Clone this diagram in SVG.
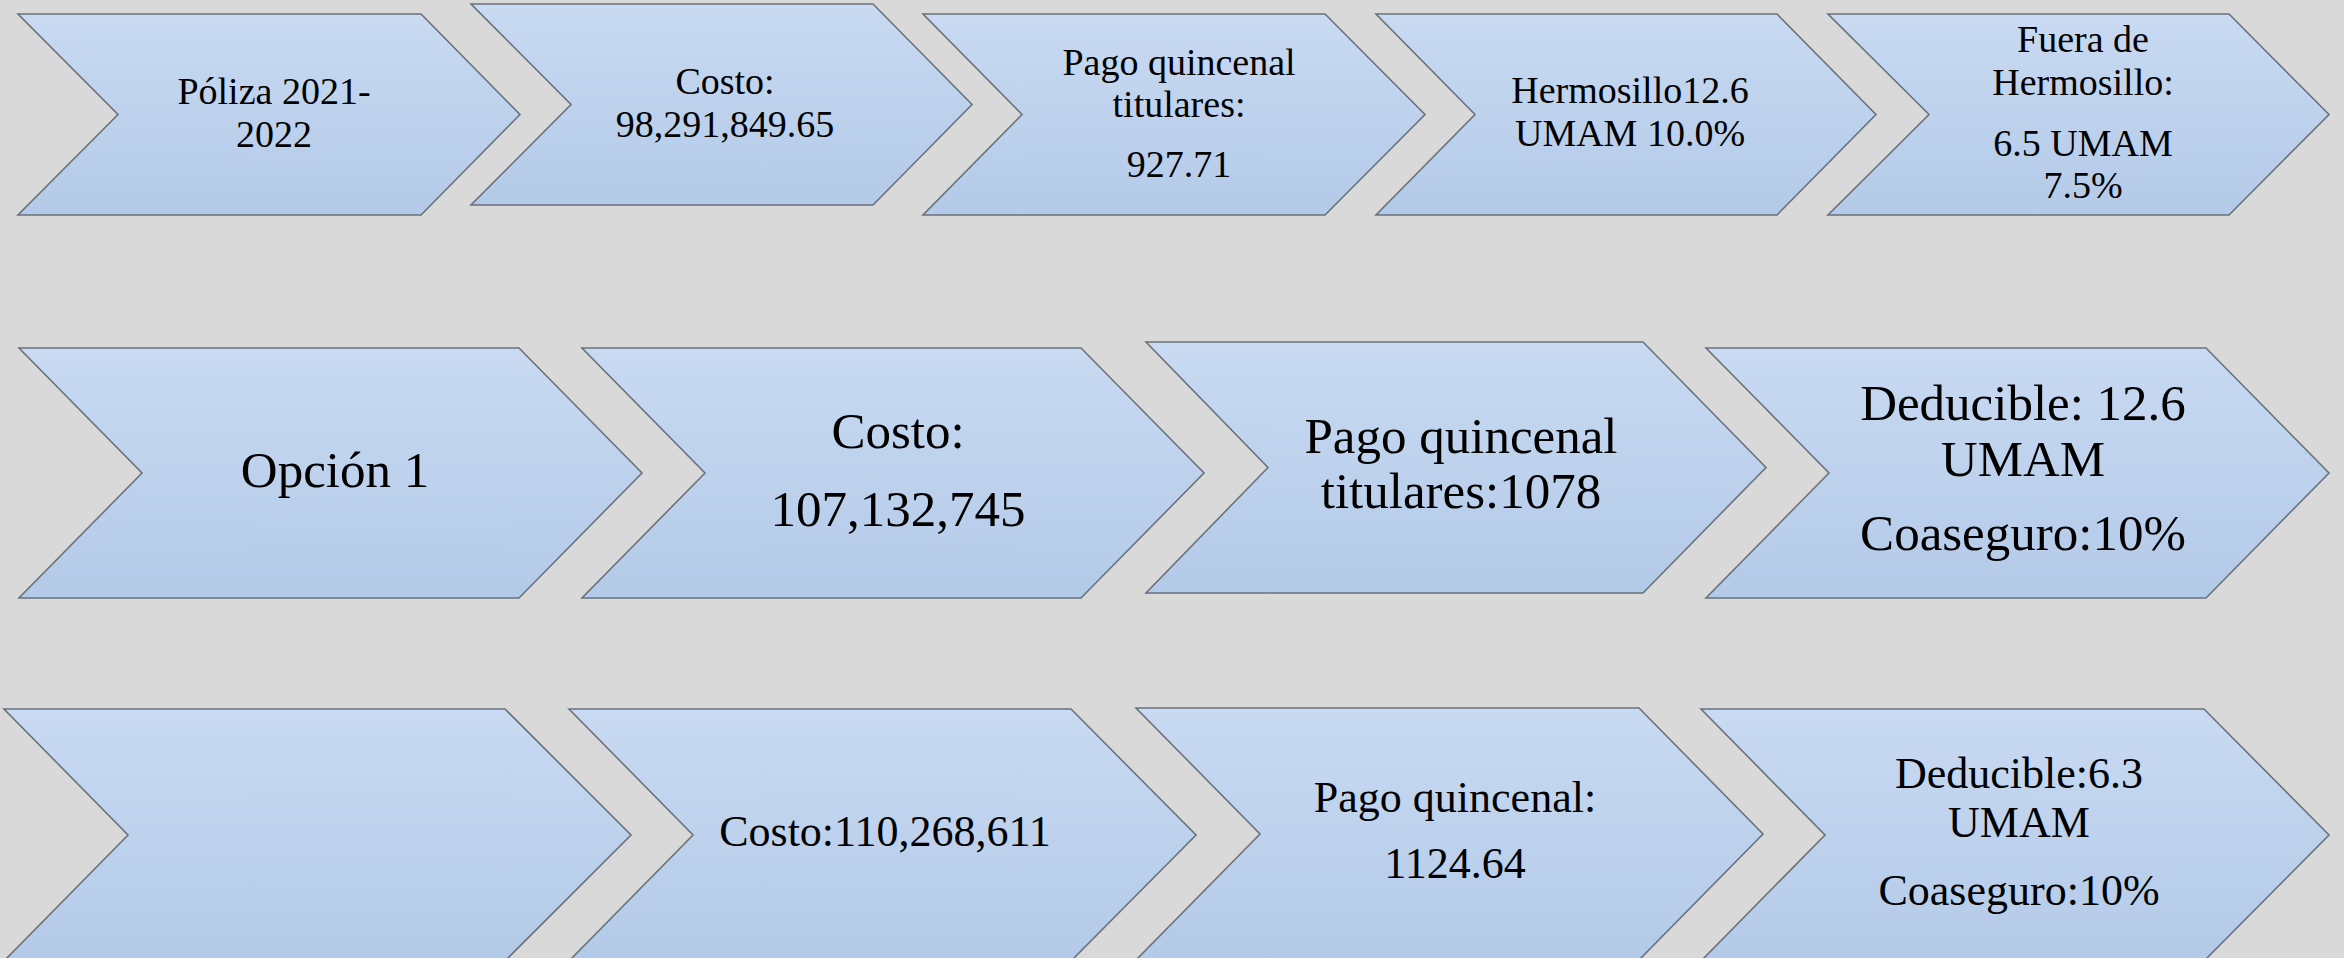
<svg xmlns="http://www.w3.org/2000/svg" width="2344" height="958" viewBox="0 0 2344 958">
<defs>
<linearGradient id="fill" x1="0" y1="0" x2="0" y2="1">
<stop offset="0" stop-color="#c9daf2"/>
<stop offset="1" stop-color="#b3cae8"/>
</linearGradient>
<style>
.chev{fill:url(#fill);stroke:#6a727c;stroke-width:1.6;stroke-linejoin:miter}
text{font-family:"Liberation Serif","Times New Roman",serif;fill:#000;text-anchor:middle}
.r1{font-size:38px}
.r2{font-size:51px}
.r3{font-size:44px}
</style>
</defs>
<rect width="2344" height="958" fill="#d9d9d9"/>
<g id="connectors"/>
<!-- Row 1 -->
<g id="r1c1"><path class="chev" d="M18,14 L421,14 L520,114.5 L421,215 L18,215 L118,114.5 Z"/>
<text class="r1" x="274" y="104">Póliza 2021-</text><text class="r1" x="274" y="147">2022</text></g>
<g id="r1c2"><path class="chev" d="M471,4 L873,4 L972,104.5 L873,205 L471,205 L571,104.5 Z"/>
<text class="r1" x="725" y="94">Costo:</text><text class="r1" x="725" y="137">98,291,849.65</text></g>
<g id="r1c3"><path class="chev" d="M923,14 L1325,14 L1425,114.5 L1325,215 L923,215 L1022,114.5 Z"/>
<text class="r1" x="1179" y="75">Pago quincenal</text><text class="r1" x="1179" y="117">titulares:</text><text class="r1" x="1179" y="177">927.71</text></g>
<g id="r1c4"><path class="chev" d="M1376,14 L1777,14 L1876,114.5 L1777,215 L1376,215 L1475,114.5 Z"/>
<text class="r1" x="1630" y="103">Hermosillo12.6</text><text class="r1" x="1630" y="146">UMAM 10.0%</text></g>
<g id="r1c5"><path class="chev" d="M1828,14 L2229,14 L2329,114.5 L2229,215 L1828,215 L1929,114.5 Z"/>
<text class="r1" x="2083" y="52">Fuera de</text><text class="r1" x="2083" y="95">Hermosillo:</text><text class="r1" x="2083" y="156">6.5 UMAM</text><text class="r1" x="2083" y="198">7.5%</text></g>
<!-- Row 2 -->
<g id="r2c1"><path class="chev" d="M19,348 L519,348 L642,473 L519,598 L19,598 L142,473 Z"/>
<text class="r2" x="335" y="487">Opción 1</text></g>
<g id="r2c2"><path class="chev" d="M582,348 L1081,348 L1204,473 L1081,598 L582,598 L705,473 Z"/>
<text class="r2" x="898" y="448">Costo:</text><text class="r2" x="898" y="526">107,132,745</text></g>
<g id="r2c3"><path class="chev" d="M1146,342 L1643,342 L1766,467.5 L1643,593 L1146,593 L1268,467.5 Z"/>
<text class="r2" x="1461" y="453">Pago quincenal</text><text class="r2" x="1461" y="508">titulares:1078</text></g>
<g id="r2c4"><path class="chev" d="M1706,348 L2206,348 L2329,473 L2206,598 L1706,598 L1829,473 Z"/>
<text class="r2" x="2023" y="420">Deducible: 12.6</text><text class="r2" x="2023" y="476">UMAM</text><text class="r2" x="2023" y="550">Coaseguro:10%</text></g>
<!-- Row 3 -->
<g id="r3c1"><path class="chev" d="M4,709 L505,709 L631,835 L505,961 L4,961 L128,835 Z"/></g>
<g id="r3c2"><path class="chev" d="M569,709 L1071,709 L1196,835 L1071,961 L569,961 L693,835 Z"/>
<text class="r3" x="885" y="846">Costo:110,268,611</text></g>
<g id="r3c3"><path class="chev" d="M1136,708 L1639,708 L1763,834 L1639,960 L1136,960 L1260,834 Z"/>
<text class="r3" x="1455" y="812">Pago quincenal:</text><text class="r3" x="1455" y="878">1124.64</text></g>
<g id="r3c4"><path class="chev" d="M1701,709 L2204,709 L2329,835 L2204,961 L1701,961 L1825,835 Z"/>
<text class="r3" x="2019" y="788">Deducible:6.3</text><text class="r3" x="2019" y="837">UMAM</text><text class="r3" x="2019" y="905">Coaseguro:10%</text></g>
</svg>
